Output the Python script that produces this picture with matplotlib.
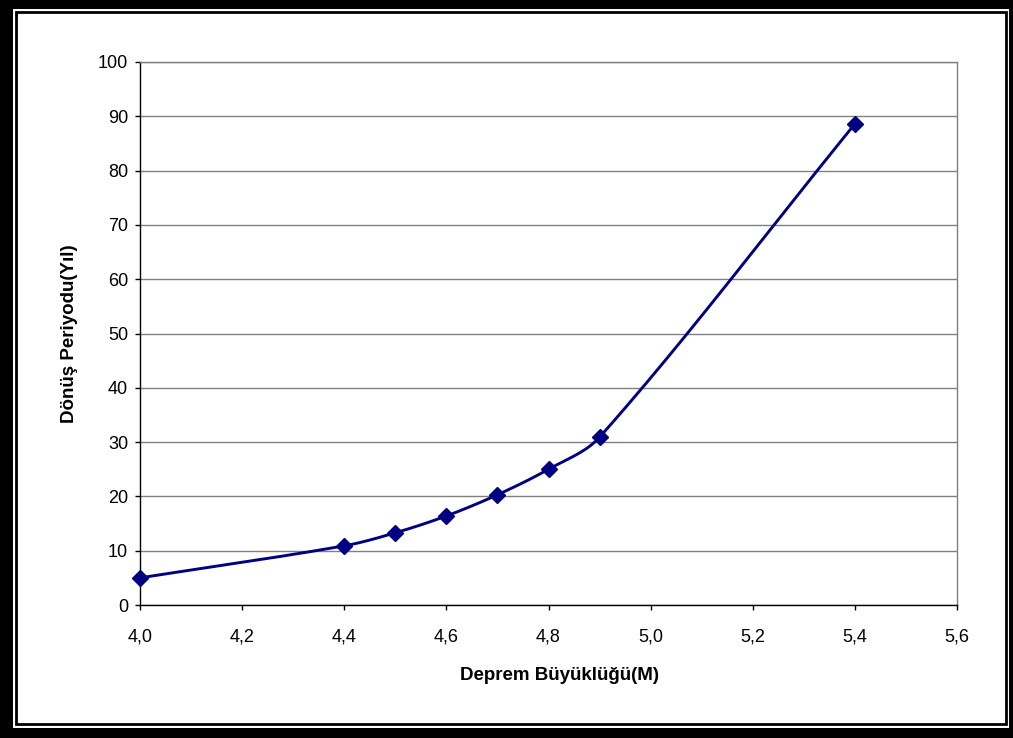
import numpy as np
import matplotlib.pyplot as plt
from matplotlib.patches import Rectangle
from matplotlib.ticker import FuncFormatter

plt.rcParams['font.family'] = ['Liberation Sans', 'DejaVu Sans']

# data
magnitude = [4.0, 4.4, 4.5, 4.6, 4.7, 4.8, 4.9, 5.4]
period = [5.0, 10.9, 13.3, 16.4, 20.3, 25.0, 30.9, 88.6]

x_ticks = [4.0, 4.2, 4.4, 4.6, 4.8, 5.0, 5.2, 5.4, 5.6]
y_ticks = [0, 10, 20, 30, 40, 50, 60, 70, 80, 90, 100]

navy = '#000080'

W, H = 1013, 738
fig = plt.figure(figsize=(W / 100, H / 100), dpi=100)

# plot area in pixels
left, right, top, bottom = 140, 957, 62, 605
ax = fig.add_axes((left / W, 1 - bottom / H, (right - left) / W, (bottom - top) / H))
ax.set_xlim(4.0, 5.6)
ax.set_ylim(0, 100)


def smooth(xs, ys, n=40):
    # excel-like smoothed line: bezier segments, tangent arms weighted by
    # neighbouring segment lengths (in pixel space) to avoid overshoot
    pw, ph = right - left, bottom - top
    px = (np.asarray(xs) - 4.0) / 1.6 * pw
    py = np.asarray(ys) / 100 * ph
    P = np.column_stack([px, py])
    P = np.vstack([P[0], P, P[-1]])
    out = []
    t = np.linspace(0, 1, n)[:, None]
    for i in range(1, len(P) - 2):
        p0, p1, p2, p3 = P[i - 1], P[i], P[i + 1], P[i + 2]
        d01 = np.hypot(*(p1 - p0))
        d12 = np.hypot(*(p2 - p1))
        d23 = np.hypot(*(p3 - p2))
        w1 = d12 / (d01 + d12) if d01 + d12 > 0 else 0
        w2 = d12 / (d12 + d23) if d12 + d23 > 0 else 0
        c1 = p1 + (p2 - p0) * w1 / 3
        c2 = p2 - (p3 - p1) * w2 / 3
        seg = ((1 - t) ** 3) * p1 + 3 * ((1 - t) ** 2) * t * c1 + 3 * (1 - t) * t ** 2 * c2 + t ** 3 * p2
        out.append(seg)
    out = np.vstack(out)
    return out[:, 0] / pw * 1.6 + 4.0, out[:, 1] / ph * 100


sx, sy = smooth(magnitude, period)
ax.plot(sx, sy, color=navy, lw=2.1, zorder=3, clip_on=False, solid_capstyle='round')
ax.plot(magnitude, period, ls='none', marker='D', ms=7.8, color=navy,
        mec=navy, mew=1, zorder=4, clip_on=False)

ax.set_xticks(x_ticks)
ax.set_yticks(y_ticks)
ax.xaxis.set_major_formatter(FuncFormatter(lambda v, p: f'{v:.1f}'.replace('.', ',')))
ax.yaxis.set_major_formatter(FuncFormatter(lambda v, p: f'{v:.0f}'))
ax.tick_params(axis='both', labelsize=13, length=3.6, width=1, color='black', direction='out')
ax.tick_params(axis='x', pad=13)
ax.tick_params(axis='y', pad=5)

ax.grid(axis='y', color='#808080', lw=1)
ax.set_axisbelow(True)
ax.spines['left'].set_color('black')
ax.spines['bottom'].set_color('black')
ax.spines['top'].set_color('#808080')
ax.spines['right'].set_color('#808080')
for s in ax.spines.values():
    s.set_linewidth(1)

ax.set_xlabel('Deprem Büyüklüğü(M)', fontsize=13.5, fontweight='bold', labelpad=22)
ax.xaxis.set_label_coords(0.514, -0.115)
ax.set_ylabel('Dönüş Periyodu(Yıl)', fontsize=13.5, fontweight='bold', labelpad=14)

# double frame around the chart
def px_rect(x0, y0, x1, y1, **kw):
    fig.patches.append(Rectangle((x0 / W, 1 - y1 / H), (x1 - x0) / W, (y1 - y0) / H,
                                 transform=fig.transFigure, **kw))

px_rect(0, 0, W, 9, color='black', lw=0)
px_rect(0, 728, W, H, color='black', lw=0)
px_rect(0, 0, 13, H, color='black', lw=0)
px_rect(1009, 0, W, H, color='black', lw=0)
px_rect(15.5, 11.5, 1005.5, 723.5, fill=False, ec='black', lw=2)

fig.savefig('out.png', dpi=100)
